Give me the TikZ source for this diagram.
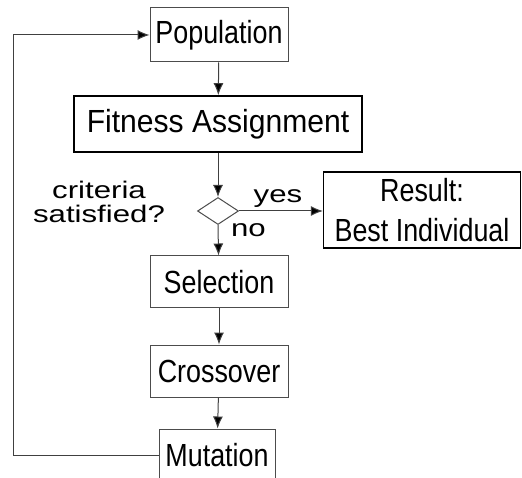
\documentclass[tikz,border=0pt]{standalone}
\usepackage{fontspec}
\setmainfont{Liberation Sans}
\newfontfamily\narrowfont[FakeStretch=0.84]{Liberation Sans}
\newfontfamily\fitfont[FakeStretch=0.94]{Liberation Sans}
\newfontfamily\widefont[FakeStretch=1.3]{Liberation Sans}
\usepackage{tikz}
\usetikzlibrary{arrows.meta, shapes.geometric}

\tikzset{
    stage/.style={draw=black!70, line width=1pt, minimum width=138pt, minimum height=52pt,
        inner sep=0pt, font=\narrowfont\fontsize{32}{40}\selectfont},
    flow/.style={draw=black!75, line width=1pt, -{Latex[length=12pt, width=10pt, fill=black]}},
    remark/.style={font=\widefont\fontsize{24}{24}\selectfont, inner sep=0pt}
}

\begin{document}
\begin{tikzpicture}[x=1pt, y=1pt]
    \useasboundingbox (0,0) rectangle (522,-478);
    \begin{scope}
    \clip (0,0) rectangle (522,-478);

    % Boxes
    \node[stage, minimum height=54pt] (pop) at (219,-35) {Population};
    \node[stage, draw=black, line width=1.6pt, minimum width=288pt, minimum height=56pt, font=\fitfont\fontsize{32}{40}\selectfont] (fit) at (218,-124) {Fitness Assignment};
    \node[draw=black!70, line width=1pt, diamond, minimum width=41pt, minimum height=27pt, inner sep=0pt] (dec) at (218,-211) {};
    \node[stage, draw=black, line width=1.3pt, minimum width=197pt, minimum height=76pt, align=center] (res) at (422,-210) {Result:\\Best Individual};
    \node[stage] (sel) at (219,-282) {Selection};
    \node[stage] (cro) at (219,-371) {Crossover};
    \node[stage, minimum width=116pt] (mut) at (217,-455) {Mutation};

    % Text
    \node[remark, align=center] (crit) at (99,-202) {criteria\\satisfied?};

    % Lines
    \draw[flow] (pop) -- (fit);
    \draw[flow] (fit) -- (dec);
    \draw[flow] (dec.east) -- (res.west |- dec.east);
    \draw[flow] (dec.south) -- (sel);
    \draw[flow] (sel) -- (cro);
    \draw[flow] (cro) -- (mut);
    \node[remark, anchor=base] (yes) at (278,-203) {yes};
    \node[remark, anchor=base] (no) at (248.5,-237) {no};

    % Loop back
    \coordinate (back) at (13,-455);
    \draw[flow] (mut.west) -- (back) |- (pop.west);
    \end{scope}
\end{tikzpicture}
\end{document}
